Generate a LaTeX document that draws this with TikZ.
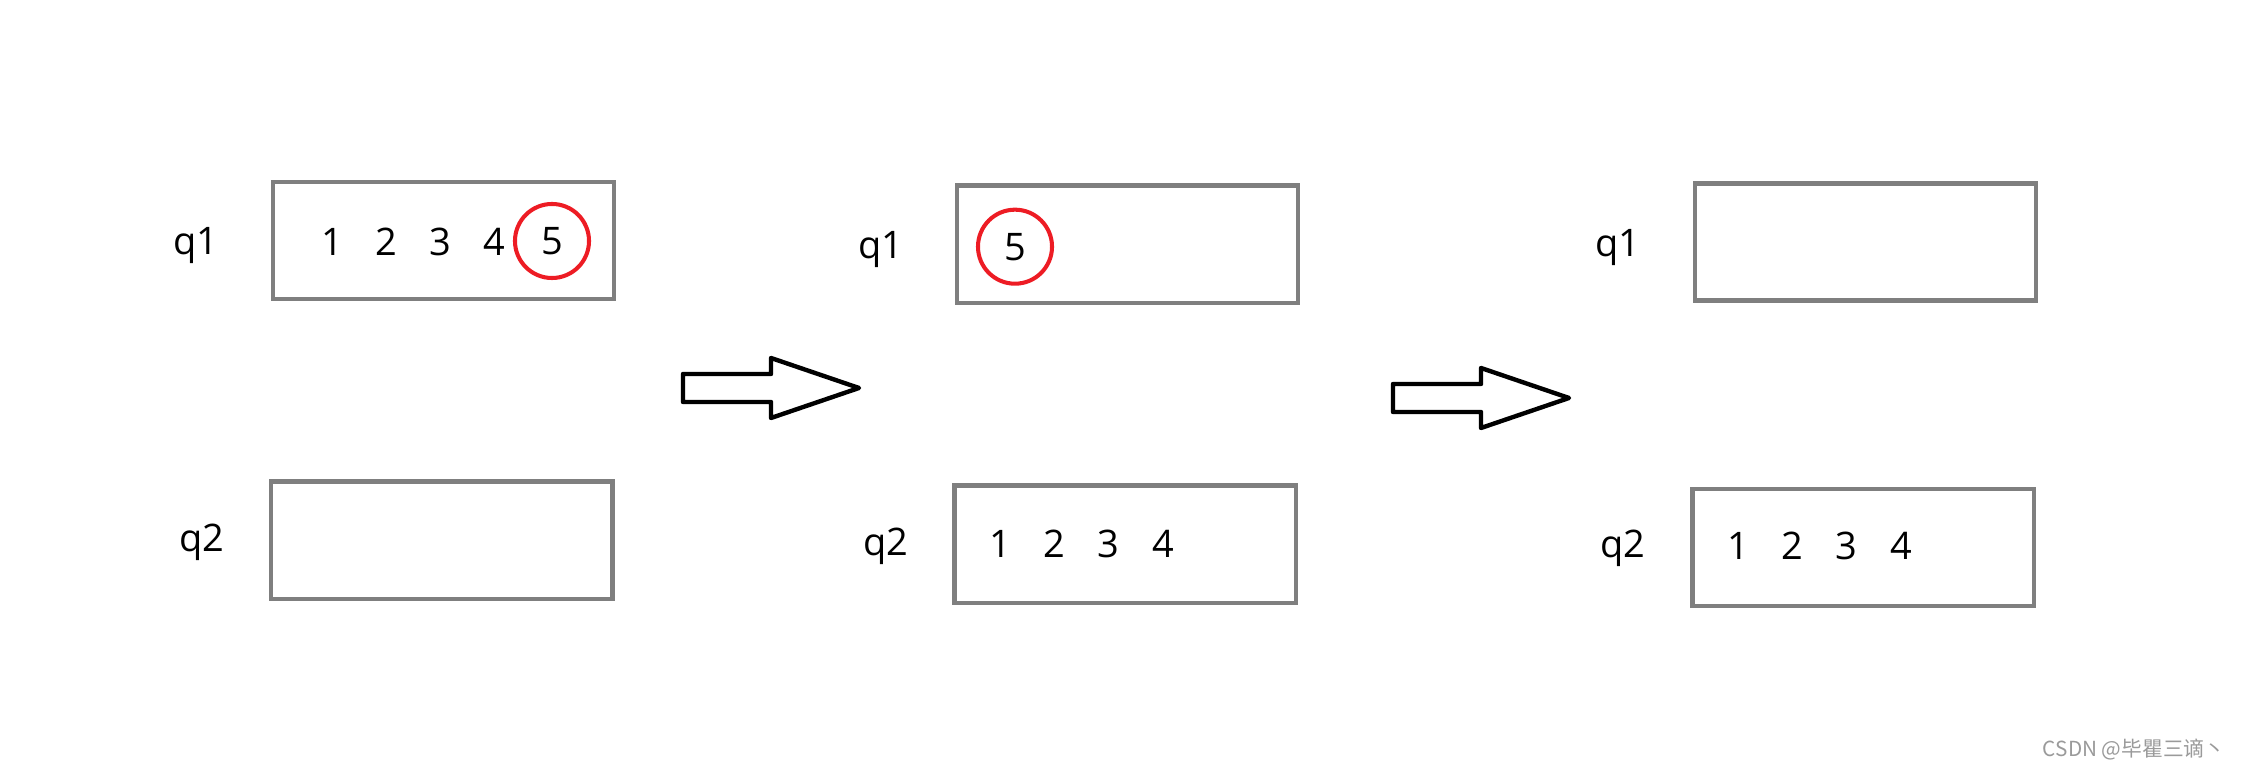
\documentclass[tikz,border=0pt]{standalone}
\usepackage{fontspec}
\setmainfont{Open Sans}
\newfontfamily\cjkfont{Noto Sans CJK SC}
\usepackage{xcolor}
\usetikzlibrary{positioning}

\definecolor{qgray}{HTML}{7F7F7F}
\definecolor{popred}{HTML}{ED1C24}
\definecolor{markgray}{HTML}{9A9A9A}
\newcommand{\qfont}{\fontsize{10.8pt}{13pt}\selectfont}

\begin{document}
\begin{tikzpicture}[
  x=0.01cm, y=-0.01cm,
  queue/.style={draw=qgray, line width=1.3pt, minimum width=3.41cm, minimum height=1.17cm, inner sep=0pt},
  qname/.style={anchor=base, font=\qfont, inner sep=0pt},
  num/.style={anchor=base, font=\qfont, inner sep=0pt},
  popped/.style={circle, draw=popred, line width=1.15pt, minimum size=0.74cm, inner sep=0pt, font=\qfont},
  bigarrow/.style={draw=black, line width=1.25pt, line join=round, fill=white}
]
\useasboundingbox (0,0) rectangle (2245,771);

% stage 1: both numbers pushed into q1
\node[queue] (q1a) at (443.5,240.5) {};
\node[queue] (q2a) at (441.7,540.3) {};
\node[qname] (n1a) at (196,255) {q1};
\node[qname] (n2a) at (202,552) {q2};
\foreach \d [count=\i] in {1,2,3,4}
  \node[num] (a\i) at ({332+54*(\i-1)},256) {\d};
\node[popped] (a5) at (552,241) {5};

% stage 2: 1..4 moved to q2, 5 left in q1
\node[queue] (q1b) at (1127.5,244.3) {};
\node[queue] (q2b) at (1125.3,544.3) {};
\node[qname] (n1b) at (881,259) {q1};
\node[qname] (n2b) at (886,556) {q2};
\node[popped] (b5) at (1015,246.7) {5};
\foreach \d [count=\i] in {1,2,3,4}
  \node[num] (b\i) at ({1000+54.3*(\i-1)},558) {\d};

% stage 3: 5 popped
\node[queue] (q1c) at (1865.5,242) {};
\node[queue] (q2c) at (1863.3,547.5) {};
\node[qname] (n1c) at (1618,257) {q1};
\node[qname] (n2c) at (1623,558) {q2};
\foreach \d [count=\i] in {1,2,3,4}
  \node[num] (c\i) at ({1738+54.3*(\i-1)},560) {\d};

% block arrows between the stages
\foreach \ax/\ay in {683/388, 1393/398}
  \draw[bigarrow, shift={(\ax,\ay)}] (0,-14) -- (88,-14) -- (88,-30) -- (176,0)
    -- (88,30) -- (88,14) -- (0,14) -- cycle;

\node[anchor=east, text=markgray, font=\fontsize{5.9pt}{7pt}\cjkfont, inner sep=0pt] (mark) at (2226,750) {CSDN @毕瞿三谪丶};
\end{tikzpicture}
\end{document}
